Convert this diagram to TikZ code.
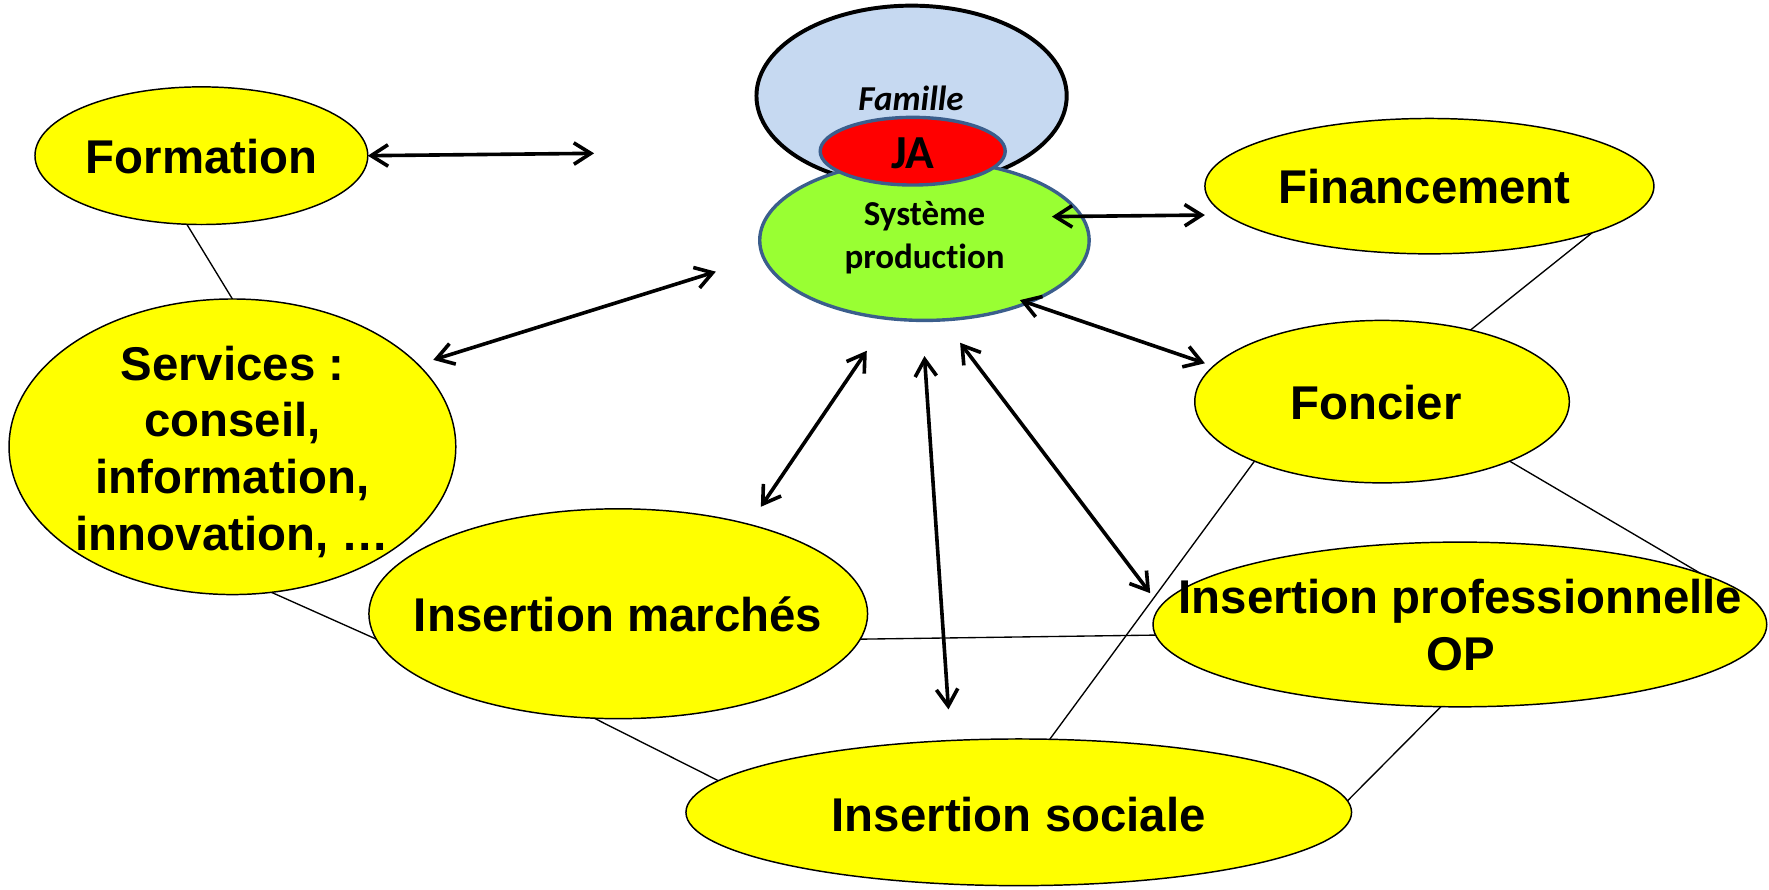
\documentclass[tikz,border=0pt]{standalone}
\usepackage{fontspec}
\setmainfont{Liberation Sans}
\newfontfamily\calib[Ligatures={NoCommon}]{Carlito}
\usetikzlibrary{arrows.meta,shapes.geometric}
\pgfdeclarelayer{bg}
\pgfsetlayers{bg,main}
\definecolor{yel}{HTML}{FFFF00}
\definecolor{grn}{HTML}{99FF33}
\definecolor{lblue}{HTML}{C6D9F1}
\definecolor{jared}{HTML}{FF0000}
\definecolor{bord}{HTML}{3B5E8C}
\begin{document}
\begin{tikzpicture}[x=1pt,y=-1pt,
  ell/.style={ellipse, draw=black, line width=1.3pt, fill=yel, inner sep=0pt, outer sep=0pt},
  lbl/.style={font=\fontsize{42}{50.4}\selectfont\bfseries, align=center, inner sep=0pt},
  thin/.style={line width=1.2pt, draw=black},
  dbl/.style={line width=3.2pt, {Straight Barb[length=15pt,width=19pt]}-{Straight Barb[length=15pt,width=19pt]}},
]
\useasboundingbox (0,0) rectangle (1568,788);

% central cluster
\node[ellipse, draw=black, line width=3.5pt, fill=lblue, inner sep=0pt,
      minimum width=275pt, minimum height=160pt] (fam) at (808,85) {};
\node[ellipse, draw=bord, line width=3pt, fill=grn, inner sep=0pt,
      minimum width=292pt, minimum height=142pt] (sys) at (819.4,213) {};
\node[ellipse, draw=bord, line width=3pt, fill=jared, inner sep=0pt,
      minimum width=164pt, minimum height=60pt] (ja) at (809,134) {};
\node[font=\calib\fontsize{31}{36}\selectfont\bfseries\itshape, anchor=base, inner sep=0pt] (famT) at (807.5,97.5) {Famille};
\node[font=\calib\fontsize{42}{48}\selectfont\bfseries, anchor=base, inner sep=0pt] (jaT) at (809,149.2) {JA};
\node[font=\calib\fontsize{31}{38.4}\selectfont\bfseries, anchor=base, inner sep=0pt] (sysT1) at (819.5,199.5) {Système};
\node[font=\calib\fontsize{31}{38.4}\selectfont\bfseries, anchor=base, inner sep=0pt] (sysT2) at (819.5,237.9) {production};

% yellow ellipses
\node[ell, minimum width=295pt, minimum height=122pt] (form) at (178.5,138) {};
\node[ell, minimum width=396pt, minimum height=262pt] (serv) at (206,396) {};
\node[ell, minimum width=398pt, minimum height=120pt] (fin) at (1267,165) {};
\node[ell, minimum width=332pt, minimum height=144pt] (fon) at (1225,356) {};
\node[ell, minimum width=442pt, minimum height=186pt] (mar) at (548,544) {};
\node[ell, minimum width=544pt, minimum height=146pt] (pro) at (1294,553.5) {};
\node[ell, minimum width=590pt, minimum height=130pt] (soc) at (903,720) {};

\node[lbl, anchor=base] (formT) at (178.8,153.7) {Formation};
\node[lbl] (servT) at (206,400.5) {Services :\\conseil,\\information,\\innovation, …};
\node[lbl, anchor=base] (finT) at (1262.6,180.3) {Financement};
\node[lbl, anchor=base] (fonT) at (1219.7,372) {Foncier};
\node[lbl, anchor=base] (marT) at (547.8,560) {Insertion marchés};
\node[lbl] (proT) at (1294.5,553.7) {Insertion professionnelle\\OP};
\node[lbl, anchor=base] (socT) at (903,737.3) {Insertion sociale};

% thin links (behind)
\begin{pgfonlayer}{bg}
\draw[thin] (form.258) -- (serv.90);
\draw[thin] (serv.-75.7) -- (mar.186);
\draw[thin] (mar.-6) -- (pro.182.9);
\draw[thin] (mar.257.8) -- (soc.174.4);
\draw[thin] (fin.-16.1) -- (fon.39);
\draw[thin] (fon.205.9) -- (soc.67.6);
\draw[thin] (fon.-25.4) -- (pro.12.4);
\draw[thin] (pro.257.5) -- (soc.2.6);
\end{pgfonlayer}

% arrow end points
\coordinate (a1) at (526.6,135.9);
\coordinate (a2s) at (384,319);
\coordinate (a2e) at (634.5,240.8);
\coordinate (a3s) at (932.4,192);
\coordinate (a3e) at (1068,190.6);
\coordinate (a4s) at (904,266);
\coordinate (a4e) at (1068,322);
\coordinate (a5s) at (768.3,310.9);
\coordinate (a5e) at (674.4,449.2);
\coordinate (a6s) at (819.4,315.6);
\coordinate (a6e) at (840.7,628.8);
\coordinate (a7s) at (851,303.8);
\coordinate (a7e) at (1019.5,525.8);

\draw[dbl] (form.east) -- (a1);
\draw[dbl] (a2s) -- (a2e);
\draw[dbl] (a3s) -- (a3e);
\draw[dbl] (a4s) -- (a4e);
\draw[dbl] (a5s) -- (a5e);
\draw[dbl] (a6s) -- (a6e);
\draw[dbl] (a7s) -- (a7e);
\end{tikzpicture}
\end{document}
